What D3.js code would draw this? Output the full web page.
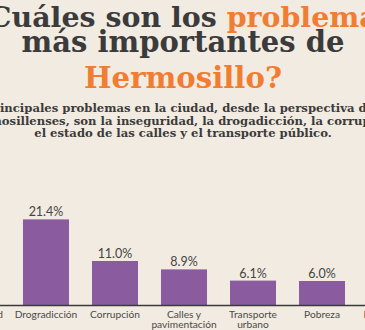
<!DOCTYPE html>
<html>
<head>
<meta charset="utf-8">
<script src="https://cdn.jsdelivr.net/npm/d3@7"></script>
<style>
  html, body { margin: 0; padding: 0; background: #f2ebe1; }
  svg { display: block; }
</style>
</head>
<body>
<svg id="chart" width="365" height="330"></svg>
<script>
// ---- data ----
const categories = ["Inseguridad", "Drogradicción", "Corrupción", "Calles y pavimentación", "Transporte urbano", "Pobreza", "Desigualdad"];
const values = [40.5, 21.4, 11.0, 8.9, 6.1, 6.0, 4.8];
const valueLabels = ["40.5%", "21.4%", "11.0%", "8.9%", "6.1%", "6.0%", "4.8%"];
const titleLines = [["¿Cuáles son los ", "problemas"], ["más importantes de"], ["Hermosillo?"]];
const subtitleLines = [
  "Los principales problemas en la ciudad, desde la perspectiva de los",
  "hermosillenses, son la inseguridad, la drogadicción, la corrupción,",
  "el estado de las calles y el transporte público."
];

const W = 365, H = 330;
const DARK = "#3b3b3b", ORANGE = "#f07d32", PURPLE = "#8a5c9f";
const svg = d3.select("#chart");
svg.append("rect").attr("width", W).attr("height", H).attr("fill", "#f2ebe1");

const cx = 183;
const serif = "'DejaVu Serif', serif";

function fitSize(text, family, weight, target) {
  const t = svg.append("text").attr("font-family", family).attr("font-weight", weight)
    .attr("font-size", 100).text(text);
  const w = t.node().getComputedTextLength();
  t.remove();
  return 100 * target / w;
}

// ---- title ----
const fs2 = fitSize(titleLines[1][0], serif, "bold", 323);
const fs3 = fitSize(titleLines[2][0], serif, "bold", 198);
const tBase = [27, 52, 88];
const tSizes = [fs2 * 0.98, fs2, fs3];
titleLines.forEach((parts, i) => {
  const t = svg.append("text").attr("x", cx).attr("y", tBase[i])
    .attr("text-anchor", "middle").attr("font-family", serif).attr("font-weight", "bold")
    .attr("font-size", tSizes[i]);
  parts.forEach((p, j) => {
    const orange = (i === 0 && j === 1) || i === 2;
    t.append("tspan").attr("fill", orange ? ORANGE : DARK).text(p);
  });
});

// ---- subtitle ----
const fsSub = fitSize(subtitleLines[2], serif, "bold", 298);
const sBase = [112, 124.5, 137];
const sShift = [-5, 2, 0];
subtitleLines.forEach((s, i) => {
  svg.append("text").attr("x", cx + sShift[i]).attr("y", sBase[i])
    .attr("text-anchor", "middle").attr("font-family", serif).attr("font-weight", "bold")
    .attr("font-size", fsSub).attr("fill", DARK).text(s);
});

// ---- chart ----
const baseY = 305;
const x = d3.scaleBand().domain(categories).range([-69, 437]).paddingInner(0.333).paddingOuter(0.333);
const y = d3.scaleLinear().domain([0, 40]).range([baseY, baseY - 160]);

const data = categories.map((c, i) => ({ c, v: values[i], l: valueLabels[i] }));

svg.append("g").selectAll("rect").data(data).join("rect")
  .attr("x", d => x(d.c)).attr("width", x.bandwidth())
  .attr("y", d => y(d.v)).attr("height", d => baseY - y(d.v))
  .attr("fill", PURPLE);

svg.append("g").selectAll("text").data(data).join("text")
  .attr("x", d => x(d.c) + x.bandwidth() / 2).attr("y", d => y(d.v) - 3)
  .attr("text-anchor", "middle").attr("font-family", "Lato, sans-serif")
  .attr("font-size", 12.5).attr("fill", "#444").text(d => d.l);

const axis = svg.append("g").attr("transform", `translate(0,${baseY})`)
  .call(d3.axisBottom(x).tickSize(0).tickSizeOuter(0).tickPadding(5.5));
axis.select(".domain").attr("stroke", "#3a3a3a").attr("stroke-width", 1.6);
axis.selectAll(".tick text").attr("font-family", "Lato, sans-serif").attr("font-size", 10.2)
  .attr("fill", "#4a4a4a")
  .each(function(d) {
    const t = d3.select(this);
    const words = d.split(" ");
    let lines = [d];
    if (words.length > 1) lines = [words.slice(0, words.length - 1).join(" "), words[words.length - 1]];
    t.text(null);
    lines.forEach((ln, k) => {
      t.append("tspan").attr("x", 0).attr("dy", k === 0 ? "0.71em" : "1.0em").text(ln);
    });
  });
</script>
</body>
</html>
